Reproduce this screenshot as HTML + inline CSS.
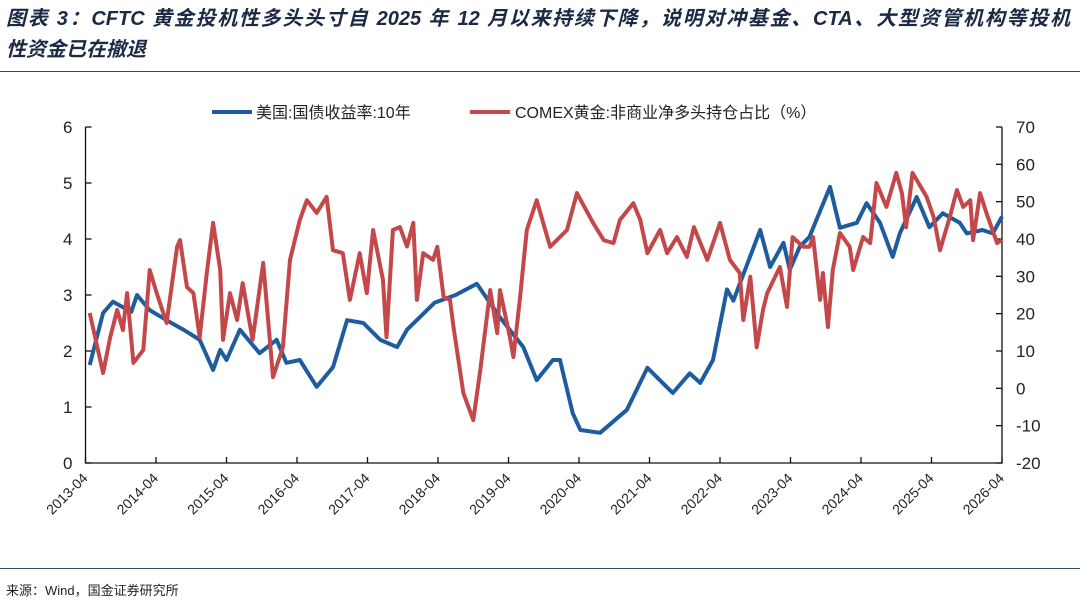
<!DOCTYPE html>
<html><head><meta charset="utf-8">
<style>
body{margin:0;width:1080px;height:608px;background:#fff;overflow:hidden;font-family:"Liberation Sans","Noto Sans CJK SC",sans-serif;}
#title{position:absolute;left:6px;top:4px;width:1064px;font-size:20px;font-weight:bold;font-style:italic;color:#1b2a44;line-height:31px;}
#title span{display:block;text-align:justify;text-align-last:justify;white-space:nowrap;}
.rule{position:absolute;left:0;width:1080px;height:1px;background:#2d4a66;}
#src{position:absolute;left:6px;top:580px;font-size:13px;color:#222;}
svg{position:absolute;left:0;top:0;}
</style></head><body>
<div id="title"><span>图表 3：CFTC 黄金投机性多头头寸自 2025 年 12 月以来持续下降，说明对冲基金、CTA、大型资管机构等投机</span>性资金已在撤退</div>
<div class="rule" style="top:71px"></div>
<div class="rule" style="top:568px"></div>
<div id="src">来源：Wind，国金证券研究所</div>
<svg id="chart" width="1080" height="608"></svg>
<script>
const xTickLabels=["2013-04","2014-04","2015-04","2016-04","2017-04","2018-04","2019-04","2020-04","2021-04","2022-04","2023-04","2024-04","2025-04","2026-04"];
const leftTicks=[0,1,2,3,4,5,6];
const rightTicks=[-20,-10,0,10,20,30,40,50,60,70];
const yieldDates=[2013.31,2013.5,2013.64,2013.9,2013.98,2014.16,2014.4,2014.64,2014.87,2015.06,2015.16,2015.25,2015.44,2015.72,2015.96,2016.1,2016.29,2016.53,2016.76,2016.96,2017.19,2017.43,2017.67,2017.81,2018.2,2018.5,2018.8,2019.13,2019.46,2019.65,2019.88,2019.98,2020.16,2020.27,2020.55,2020.93,2021.22,2021.58,2021.82,2021.97,2022.15,2022.35,2022.44,2022.82,2022.96,2023.15,2023.24,2023.38,2023.52,2023.81,2023.95,2024.19,2024.33,2024.52,2024.7,2024.8,2025.04,2025.22,2025.41,2025.65,2025.75,2025.97,2026.12,2026.25];
const yieldValues=[1.75,2.68,2.88,2.7,3.0,2.73,2.55,2.38,2.2,1.66,2.02,1.84,2.38,1.96,2.2,1.79,1.84,1.36,1.71,2.55,2.5,2.2,2.07,2.38,2.86,3.0,3.2,2.6,2.07,1.48,1.84,1.84,0.89,0.59,0.54,0.95,1.7,1.25,1.6,1.43,1.84,3.1,2.9,4.16,3.5,3.93,3.45,3.86,4.04,4.93,4.2,4.29,4.64,4.29,3.68,4.1,4.75,4.21,4.46,4.29,4.1,4.16,4.1,4.4];
const posDates=[2013.31,2013.5,2013.6,2013.7,2013.78,2013.84,2013.93,2014.07,2014.16,2014.26,2014.4,2014.55,2014.59,2014.69,2014.78,2014.87,2014.97,2015.06,2015.16,2015.2,2015.3,2015.4,2015.48,2015.62,2015.77,2015.91,2016.05,2016.15,2016.29,2016.39,2016.53,2016.67,2016.76,2016.9,2017.0,2017.14,2017.24,2017.33,2017.47,2017.52,2017.61,2017.71,2017.81,2017.9,2017.95,2018.04,2018.18,2018.24,2018.33,2018.42,2018.47,2018.61,2018.75,2018.85,2018.99,2019.09,2019.13,2019.27,2019.32,2019.41,2019.51,2019.65,2019.84,2020.08,2020.22,2020.45,2020.6,2020.74,2020.83,2021.02,2021.12,2021.22,2021.4,2021.5,2021.64,2021.78,2021.88,2022.07,2022.25,2022.39,2022.53,2022.58,2022.68,2022.77,2022.86,2022.92,2023.1,2023.2,2023.28,2023.43,2023.52,2023.57,2023.67,2023.71,2023.78,2023.85,2023.95,2024.09,2024.14,2024.28,2024.38,2024.47,2024.61,2024.75,2024.83,2024.89,2024.98,2025.18,2025.28,2025.37,2025.51,2025.61,2025.7,2025.8,2025.84,2025.94,2026.03,2026.18,2026.25];
const posValues=[20.2,4.1,13.7,21,15.6,25.5,6.8,10.3,31.7,25.5,17.5,37.9,39.7,27.1,25.5,13.7,30.9,44.3,31.7,13,25.5,18.3,28.2,13,33.6,3.0,11,34.4,45.1,50.4,47,51.3,37,36.2,23.7,36.2,25.5,42.4,29,13.7,42.4,43.2,38,44.3,23.7,36.2,34.4,37.9,24.5,23.7,16.4,-1.3,-8.5,4.9,26.3,14.8,26.3,13.7,8.4,23.7,42.4,50.4,37.9,42.4,52.3,44.3,39.7,38.9,45.1,49.6,45.1,36.2,42.4,36.2,40.5,35.2,43.2,34.4,44.3,34.4,30.9,18.3,29.9,11,21,25.5,32.5,21.8,40.5,37.9,37.9,40.5,23.7,30.9,16.4,31.7,41.6,37.9,31.7,40.5,38.9,55,48.6,57.7,52.3,43.2,57.7,51.3,45.9,37,45.9,53.1,48.6,50.4,39.7,52.3,46.9,38.9,39.7];

const NS="http://www.w3.org/2000/svg";
const svg=document.getElementById('chart');
const X0=85.5,X1=1002,Y0=463,Y1=127;
const xs=t=>X0+(t-2013.25)*(X1-X0)/13;
const yl=v=>Y0-(v-0)*(Y0-Y1)/6;
const yr=v=>Y0-(v+20)*(Y0-Y1)/90;
function mk(tag,attrs,parent){const e=document.createElementNS(NS,tag);for(const k in attrs)e.setAttribute(k,attrs[k]);(parent||svg).appendChild(e);return e;}
let a=mk('path',{d:`M${X0},${Y1}V${Y0}H${X1}V${Y1}`,fill:'none',stroke:'#111','stroke-width':1.3});


leftTicks.forEach(v=>{
 mk('line',{x1:X0,x2:X0+6,y1:yl(v),y2:yl(v),stroke:'#111','stroke-width':1.3});
 const t=mk('text',{x:X0-13,y:yl(v)+6,'text-anchor':'end','font-size':17,fill:'#222'});t.textContent=v;
 
 
});
rightTicks.forEach(v=>{
 mk('line',{x1:X1-6,x2:X1,y1:yr(v),y2:yr(v),stroke:'#111','stroke-width':1.3});
 const t=mk('text',{x:X1+14,y:yr(v)+6,'font-size':17,fill:'#222'});t.textContent=v;
 
 
});
xTickLabels.forEach((s,i)=>{
 const x=xs(2013.25+i);
 mk('line',{x1:x,x2:x,y1:Y0,y2:Y0-6,stroke:'#111','stroke-width':1.3});
 const t=mk('text',{x:x+3,y:Y0+16,'text-anchor':'end','font-size':14,fill:'#222',transform:`rotate(-45 ${x+3} ${Y0+16})`});t.textContent=s;
 
 
});
function line(ds,vs,f,c,name){
 const d=ds.map((t,i)=>(i?'L':'M')+xs(t).toFixed(1)+','+f(vs[i]).toFixed(1)).join('');
 const p=mk('path',{d,fill:'none',stroke:c,'stroke-width':4,'stroke-linejoin':'round'});
 
 
}
line(yieldDates,yieldValues,yl,'#1f5c9e','yield-line');
line(posDates,posValues,yr,'#c4474a','net-long-line');
mk('line',{x1:212,x2:252,y1:112,y2:112,stroke:'#1f5c9e','stroke-width':4});
let l1=mk('text',{x:256,y:118,'font-size':16,fill:'#222'});l1.textContent='美国:国债收益率:10年';


mk('line',{x1:470,x2:510,y1:112,y2:112,stroke:'#c4474a','stroke-width':4});
let l2=mk('text',{x:515,y:118,'font-size':16,fill:'#222'});l2.textContent='COMEX黄金:非商业净多头持仓占比（%）';


</script>
</body></html>
